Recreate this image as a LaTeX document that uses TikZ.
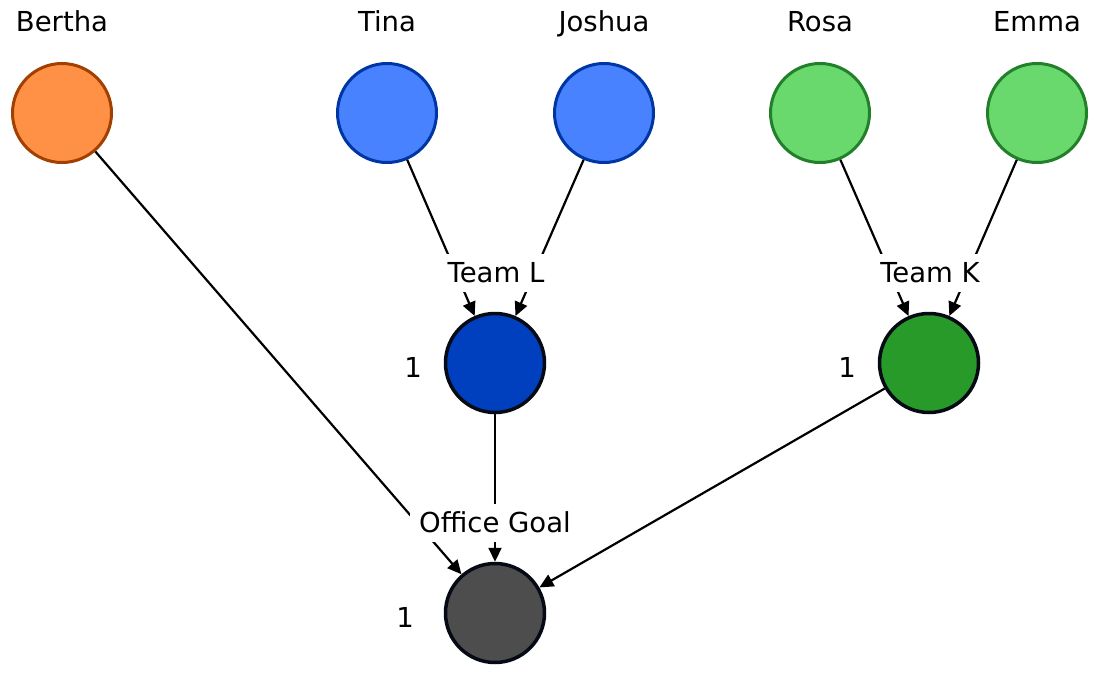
\documentclass[tikz,border=0pt]{standalone}
\usepackage{fontspec}
\setmainfont{DejaVu Sans}
\usetikzlibrary{arrows.meta}
\definecolor{orfill}{HTML}{FF9146}
\definecolor{ordraw}{HTML}{A14000}
\definecolor{blfill}{HTML}{4882FF}
\definecolor{bldraw}{HTML}{0036A3}
\definecolor{grfill}{HTML}{6AD96D}
\definecolor{grdraw}{HTML}{23802A}
\definecolor{teamL}{HTML}{0040BF}
\definecolor{teamK}{HTML}{279A29}
\definecolor{goal}{HTML}{4D4D4D}
\definecolor{darkline}{HTML}{050A14}
\begin{document}
\begin{tikzpicture}[x=1pt,y=-1pt,
  person/.style={circle,minimum size=99pt,inner sep=0pt,line width=3pt},
  agg/.style={circle,minimum size=99pt,inner sep=0pt,line width=3.5pt,draw=darkline},
  txt/.style={font=\fontsize{27.5}{30}\selectfont,inner sep=0pt,anchor=base},
  lab/.style={font=\fontsize{27.5}{30}\selectfont,fill=white,inner xsep=9pt,inner ysep=0pt,
     text height=28pt,text depth=10pt,anchor=base},
  conn/.style={line width=2.2pt,-{Triangle[length=14pt,width=13pt]}}]
\useasboundingbox (0,0) rectangle (1100,677);
% people
\node[person,fill=orfill,draw=ordraw] (bertha) at (62,113) {};
\node[person,fill=blfill,draw=bldraw] (tina) at (387,113) {};
\node[person,fill=blfill,draw=bldraw] (joshua) at (604,113) {};
\node[person,fill=grfill,draw=grdraw] (rosa) at (820,113) {};
\node[person,fill=grfill,draw=grdraw] (emma) at (1037,113) {};
\node[txt] (tbertha) at (62,32) {Bertha};
\node[txt] (ttina) at (387,32) {Tina};
\node[txt] (tjoshua) at (604,32) {Joshua};
\node[txt] (trosa) at (820,32) {Rosa};
\node[txt] (temma) at (1037,32) {Emma};
% aggregates
\node[agg,fill=teamL] (teaml) at (495,363) {};
\node[agg,fill=teamK] (teamk) at (929,363) {};
\node[agg,fill=goal] (office) at (495,613) {};
\node[txt] (onel) at (413,377) {1};
\node[txt] (onek) at (847,377) {1};
\node[txt] (oneg) at (405,627) {1};
% connectors
\draw[conn] (tina) -- (teaml);
\draw[conn] (joshua) -- (teaml);
\draw[conn] (rosa) -- (teamk);
\draw[conn] (emma) -- (teamk);
\draw[conn] (bertha) -- (office);
\draw[conn] (teaml) -- (office);
\draw[conn] (teamk) -- (office);
% labels on top
\node[lab] (labl) at (496,282) {Team L};
\node[lab] (labk) at (930,282) {Team K};
\node[lab] (labg) at (495,532) {Office Goal};
\end{tikzpicture}
\end{document}
